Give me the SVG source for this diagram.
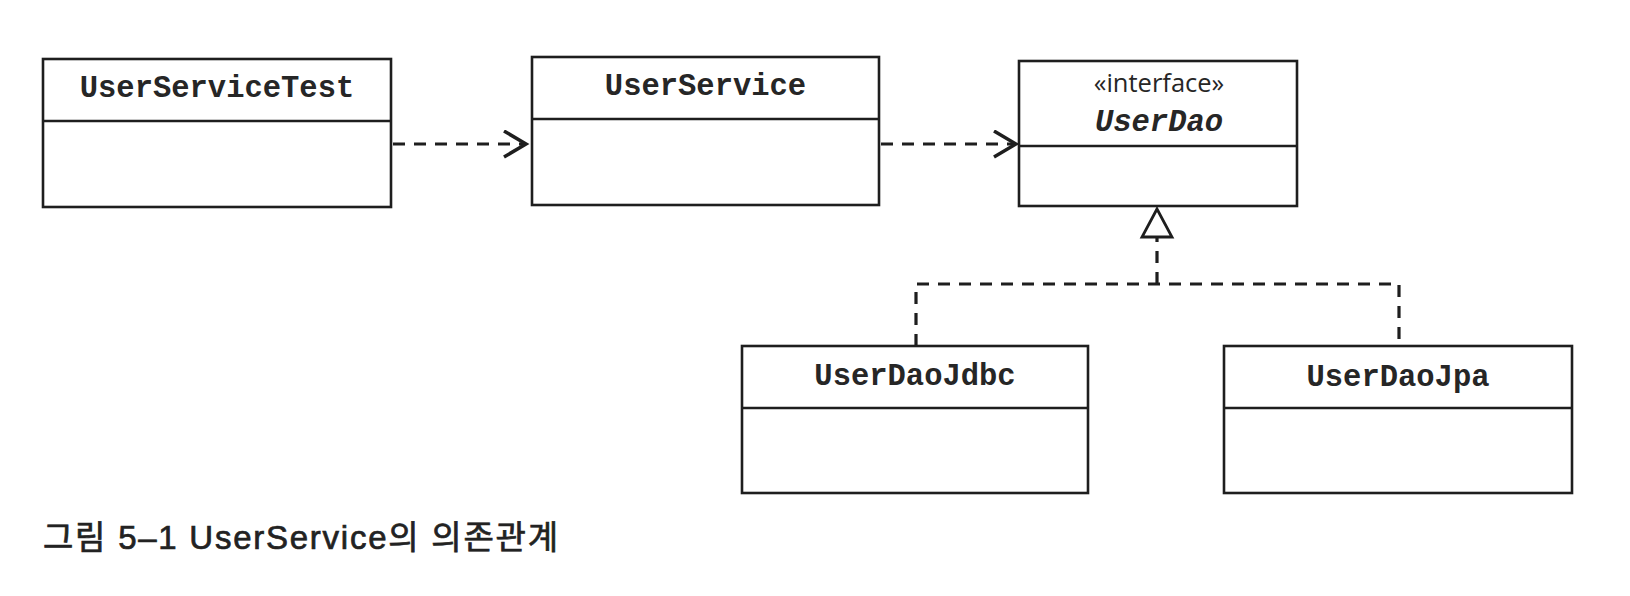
<svg xmlns="http://www.w3.org/2000/svg" width="1630" height="596" viewBox="0 0 1630 596">
<defs>
<style>
.box{fill:#fff;stroke:#1e1e1e;stroke-width:2.6}
.div{stroke:#1e1e1e;stroke-width:2.6}
.name{font-family:"Liberation Mono","Courier New",monospace;font-weight:bold;font-size:30.5px;fill:#262626;text-anchor:middle}
.stereo{font-family:"Open Sans","DejaVu Sans",sans-serif;font-size:25.5px;fill:#262626;text-anchor:middle}
.dash{fill:none;stroke:#1e1e1e;stroke-width:3.2;stroke-dasharray:12 9}
.caption{font-family:"Liberation Sans","Noto Sans CJK KR",sans-serif;font-size:33px;fill:#222;stroke:#222;stroke-width:0.7}
</style>
<marker id="open" markerUnits="userSpaceOnUse" markerWidth="30" markerHeight="30" refX="24" refY="14" orient="auto" viewBox="0 0 30 30">
<polyline points="2,1 24,14 2,27" fill="none" stroke="#1e1e1e" stroke-width="3.5"/>
</marker>
</defs>
<rect width="1630" height="596" fill="#fff"/>
<g id="connectors">
<line class="dash" x1="393" y1="144" x2="526" y2="144" marker-end="url(#open)"/>
<line class="dash" x1="881" y1="144" x2="1016" y2="144" marker-end="url(#open)"/>
<polyline class="dash" points="916,346 916,284 1399,284 1399,346"/>
<line class="dash" x1="1157" y1="284" x2="1157" y2="238"/>
<polygon points="1157,209 1142,237 1172,237" fill="#fff" stroke="#1e1e1e" stroke-width="2.8" stroke-linejoin="miter"/>
</g>
<g id="UserServiceTest">
<rect class="box" x="43" y="59" width="348" height="148"/>
<line class="div" x1="43" y1="121" x2="391" y2="121"/>
<text class="name" x="217" y="97">UserServiceTest</text>
</g>
<g id="UserService">
<rect class="box" x="532" y="57" width="347" height="148"/>
<line class="div" x1="532" y1="119" x2="879" y2="119"/>
<text class="name" x="705.5" y="95">UserService</text>
</g>
<g id="UserDao">
<rect class="box" x="1019" y="61" width="278" height="145"/>
<line class="div" x1="1019" y1="146" x2="1297" y2="146"/>
<text class="stereo" x="1159" y="92">«interface»</text>
<text class="name" x="1159" y="131" font-style="italic">UserDao</text>
</g>
<g id="UserDaoJdbc">
<rect class="box" x="742" y="346" width="346" height="147"/>
<line class="div" x1="742" y1="408" x2="1088" y2="408"/>
<text class="name" x="915" y="385">UserDaoJdbc</text>
</g>
<g id="UserDaoJpa">
<rect class="box" x="1224" y="346" width="348" height="147"/>
<line class="div" x1="1224" y1="408" x2="1572" y2="408"/>
<text class="name" x="1398" y="386">UserDaoJpa</text>
</g>
<text class="caption" x="43" y="549" textLength="515" lengthAdjust="spacing">그림 5–1 UserService의 의존관계</text>
</svg>
